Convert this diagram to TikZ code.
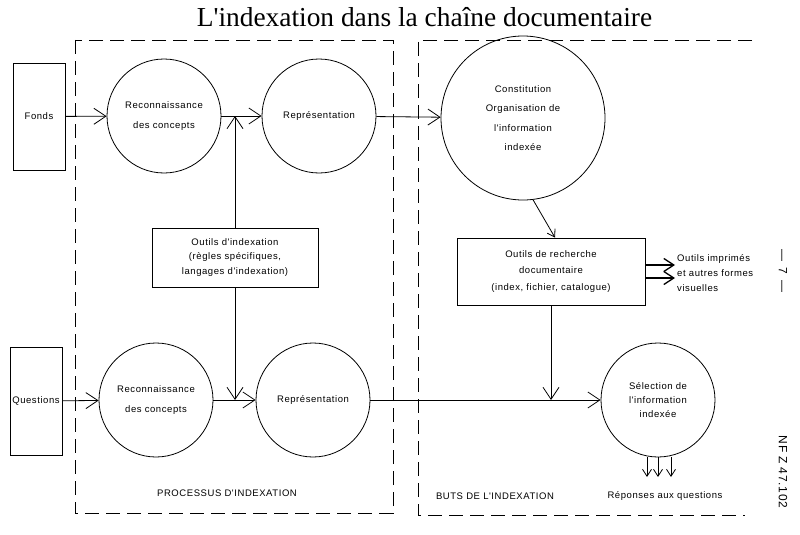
\documentclass[tikz,border=0pt]{standalone}
\usepackage{fontspec}
\setmainfont{Liberation Serif}
\newfontfamily\labfont[LetterSpace=6]{Liberation Sans}
\usetikzlibrary{arrows.meta}
\begin{document}
\begin{tikzpicture}[x=1pt,y=-1pt,
  lines/.style={font=\labfont\fontsize{9.5}{#1}\selectfont},
  every node/.style={lines=15},
  proc/.style={draw, circle, minimum size=114pt, inner sep=0pt, align=center, line width=0.8pt},
  box/.style={draw, rectangle, inner sep=0pt, align=center, line width=0.8pt},
  conn/.style={line width=0.8pt},
  arr/.style={conn, -{Straight Barb[length=12pt,width=16pt]}},
  smallarr/.style={conn, -{Straight Barb[length=7pt,width=9pt]}},
  boldarr/.style={line width=1.3pt, -{Straight Barb[length=10pt,width=13pt]}},
  frame/.style={line width=0.8pt, dash pattern=on 14pt off 7pt},
  lbl/.style={inner sep=0pt}]
\useasboundingbox (0,0) rectangle (800,535);

% title
\node[lbl, font=\fontsize{27.4}{30}\selectfont] (title) at (424.5,17) {L\textquotesingle indexation dans la chaîne documentaire};

% frames
\draw[frame] (75,40) rectangle (393,513);
\draw[frame] (752,40) -- (418,40) -- (418,515) -- (745,515);

% input boxes
\node[box, minimum width=52pt, minimum height=107pt] (fonds) at (39,116.5) {Fonds};
\node[box, minimum width=52pt, minimum height=108pt] (questions) at (36,401) {Questions};

% processes
\node[proc, lines=20] (rec1) at (164,116) {Reconnaissance\\des concepts};
\node[proc] (rep1) at (319,116) {Représentation};
\node[proc, lines=20] (rec2) at (156,400) {Reconnaissance\\des concepts};
\node[proc] (rep2) at (313,400) {Représentation};
\node[box, lines=14.5, minimum width=166pt, minimum height=59pt] (outils1) at (235,257.5) {Outils d'indexation\\(règles spécifiques,\\langages d'indexation)};

\node[proc, minimum size=164pt, lines=19.3] (const) at (523,118) {Constitution\\Organisation de\\l'information\\indexée};
\node[box, lines=16.5, minimum width=188pt, minimum height=67pt] (outils2) at (551,271.5) {Outils de recherche\\documentaire\\(index, fichier, catalogue)};
\node[proc, lines=14] (sel) at (658,400) {Sélection de\\l'information\\indexée};

% labels
\node[lbl, anchor=west, align=left, lines=15] (imp) at (677,273) {Outils imprimés\\et autres formes\\visuelles};
\node[lbl] (proclbl) at (227,493) {PROCESSUS D'INDEXATION};
\node[lbl] (buts) at (495,496) {BUTS DE L'INDEXATION};
\node[lbl] (reponses) at (665,496) {Réponses aux questions};
\node[lbl, rotate=-90, font=\labfont\fontsize{12}{12}\selectfont] (nf) at (783,472) {NF Z 47.102};
\node[lbl, rotate=-90, font=\labfont\fontsize{12}{12}\selectfont] (page) at (783,271) {—\hspace{6pt}7\hspace{6pt}—};

% connectors
\draw[arr] (fonds) -- (rec1);
\draw[arr] (rec1) -- (rep1);
\draw[arr] (outils1.north) -- (outils1.north |- rec1.east);
\draw[arr] (rep1) -- (const);
\draw[smallarr] (const.-83) -- ([xshift=4pt]outils2.north);

\draw[arr] (questions) -- (rec2);
\draw[arr] (rec2) -- (rep2);
\draw[arr] (outils1.south) -- (outils1.south |- rec2.east);
\draw[arr] (rep2) -- (sel);
\draw[arr] (outils2.south) -- (outils2.south |- sel.west);

\coordinate (o1) at (675,265);
\coordinate (o2) at (675,278);
\draw[boldarr] (outils2.east |- o1) -- (o1);
\draw[boldarr] (outils2.east |- o2) -- (o2);

\coordinate (d1) at (647,477);
\coordinate (d2) at (658,477);
\coordinate (d3) at (671,477);
\draw[smallarr] (sel.south -| d1) -- (d1);
\draw[smallarr] (sel.south -| d2) -- (d2);
\draw[smallarr] (sel.south -| d3) -- (d3);
\end{tikzpicture}
\end{document}
